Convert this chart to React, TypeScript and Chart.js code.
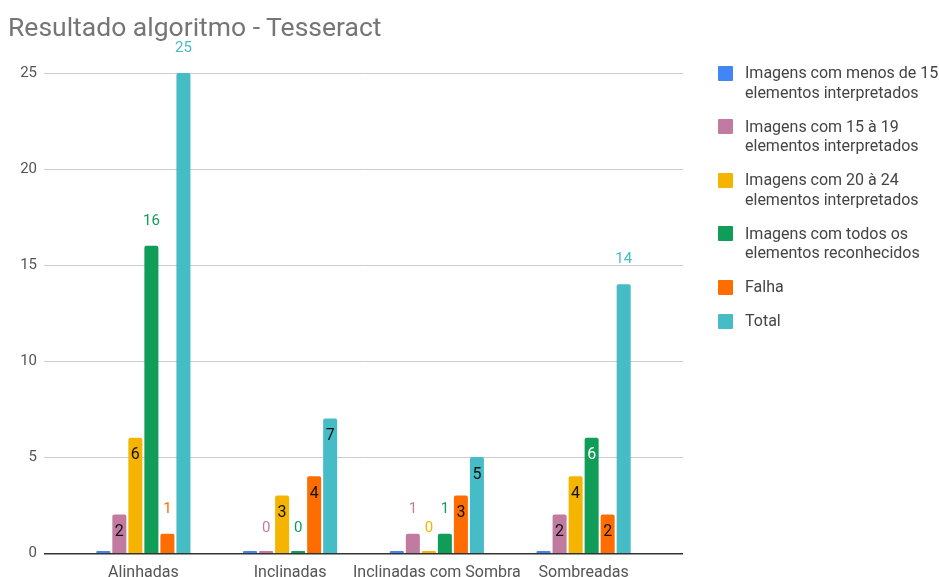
import React, { useEffect, useRef } from "react";
import { Chart, registerables } from "chart.js";

Chart.register(...registerables);

const categories = ["Alinhadas", "Inclinadas", "Inclinadas com Sombra", "Sombreadas"];
const seriesNames = [
  ["Imagens com menos de 15", "elementos interpretados"],
  ["Imagens com 15 à 19", "elementos interpretados"],
  ["Imagens com 20 à 24", "elementos interpretados"],
  ["Imagens com todos os", "elementos reconhecidos"],
  ["Falha"],
  ["Total"],
];
const menos15 = [0, 0, 0, 0];
const de15a19 = [2, 0, 1, 2];
const de20a24 = [6, 3, 0, 4];
const todos = [16, 0, 1, 6];
const falha = [1, 4, 3, 2];
const total = [25, 7, 5, 14];
const yTicks = [0, 5, 10, 15, 20, 25];
const colors = ["#4285F4", "#C27BA0", "#F4B400", "#0F9D58", "#FF6D00", "#46BDC6"];
const seriesValues = [menos15, de15a19, de20a24, todos, falha, total];

const FONT = "Roboto, 'Noto Sans', sans-serif";

function isDark(hex: string) {
  const r = parseInt(hex.slice(1, 3), 16);
  const g = parseInt(hex.slice(3, 5), 16);
  const b = parseInt(hex.slice(5, 7), 16);
  return 0.299 * r + 0.587 * g + 0.114 * b < 130;
}

const gridPlugin = {
  id: "gsGrid",
  beforeDatasetsDraw(chart: any) {
    const ctx = chart.ctx;
    const y = chart.scales.y;
    ctx.save();
    ctx.strokeStyle = "#cccccc";
    ctx.lineWidth = 1;
    for (const t of yTicks) {
      if (t === 0) continue;
      const py = Math.round(y.getPixelForValue(t)) + 0.5;
      ctx.beginPath();
      ctx.moveTo(44, py);
      ctx.lineTo(683, py);
      ctx.stroke();
    }
    ctx.restore();
  },
  afterDatasetsDraw(chart: any) {
    const ctx = chart.ctx;
    const y = chart.scales.y;
    ctx.save();
    const py = Math.round(y.getPixelForValue(0));
    ctx.fillStyle = "#333333";
    ctx.fillRect(44, py, 639, 1.5);
    ctx.restore();
  },
};

const labelPlugin = {
  id: "gsLabels",
  afterDraw(chart: any) {
    const ctx = chart.ctx;
    const y = chart.scales.y;
    ctx.save();
    ctx.textAlign = "center";
    ctx.textBaseline = "middle";
    chart.data.datasets.forEach((ds: any, di: number) => {
      if (di === 0) return;
      const meta = chart.getDatasetMeta(di);
      meta.data.forEach((bar: any, i: number) => {
        const v = ds.data[i];
        const top = y.getPixelForValue(v);
        const color = colors[di];
        if (v >= 2 && v <= 7) {
          ctx.font = `16px ${FONT}`;
          ctx.fillStyle = isDark(color) ? "#ffffff" : "#111111";
          ctx.fillText(String(v), bar.x, top + 17.5);
        } else {
          ctx.font = `15px ${FONT}`;
          ctx.lineWidth = 3;
          ctx.strokeStyle = "#ffffff";
          ctx.lineJoin = "round";
          ctx.strokeText(String(v), bar.x, top - 24.5);
          ctx.fillStyle = color;
          ctx.fillText(String(v), bar.x, top - 24.5);
        }
      });
    });
    ctx.restore();
  },
};

export default function App() {
  const ref = useRef<HTMLCanvasElement | null>(null);

  useEffect(() => {
    if (!ref.current) return;
    const chart = new Chart(ref.current, {
      type: "bar",
      data: {
        labels: categories,
        datasets: seriesValues.map((vals, i) => ({
          label: seriesNames[i].join(" "),
          data: vals,
          backgroundColor: colors[i],
          borderRadius: { topLeft: 2, topRight: 2, bottomLeft: 0, bottomRight: 0 },
          borderSkipped: false,
          minBarLength: 2,
          categoryPercentage: 0.655,
          barPercentage: 0.875,
        })),
      },
      options: {
        responsive: false,
        animation: false,
        layout: { padding: { top: 73, right: 282, left: 0, bottom: 0 } },
        plugins: {
          legend: { display: false },
          title: { display: false },
          tooltip: { enabled: false },
        },
        scales: {
          x: {
            offset: true,
            grid: { display: false, drawTicks: false },
            border: { display: false },
            ticks: {
              color: "#555555",
              font: { family: FONT, size: 16 },
              padding: 10,
              maxRotation: 0,
              autoSkip: false,
            },
            afterFit: (s: any) => {
              s.height = 24;
              s.paddingLeft = 0;
              s.paddingRight = 0;
            },
          },
          y: {
            min: 0,
            max: 25,
            grid: { display: false, drawTicks: false },
            border: { display: false },
            afterBuildTicks: (s: any) => {
              s.ticks = yTicks.map((v) => ({ value: v }));
            },
            ticks: {
              color: "#555555",
              font: { family: FONT, size: 15 },
              padding: 33,
            },
            afterFit: (s: any) => {
              s.width = 70;
              s.paddingTop = 0;
              s.paddingBottom = 0;
            },
          },
        },
      },
      plugins: [gridPlugin, labelPlugin],
    });
    return () => chart.destroy();
  }, []);

  return (
    <div style={{ position: "fixed", left: 0, top: 0, width: 939, height: 577, background: "#fff" }}>
      <canvas ref={ref} width={939} height={577} style={{ position: "absolute", left: 0, top: 0 }} />
      <div
        style={{
          position: "absolute",
          left: 8,
          top: 9,
          fontFamily: FONT,
          fontSize: 26.5,
          color: "#757575",
          lineHeight: "36px",
          whiteSpace: "nowrap",
        }}
      >
        Resultado algoritmo - Tesseract
      </div>
      <div style={{ position: "absolute", left: 718, top: 63, fontFamily: FONT, fontSize: 16, color: "#444444" }}>
        {seriesNames.map((lines, i) => (
          <div key={i} style={{ position: "relative", marginBottom: 14.5, lineHeight: "19.5px", whiteSpace: "nowrap" }}>
            <div
              style={{
                position: "absolute",
                left: 0,
                top: 2.5,
                width: 15,
                height: 15,
                background: colors[i],
                borderRadius: 1,
              }}
            />
            <div style={{ marginLeft: 27 }}>
              {lines.map((l, j) => (
                <div key={j}>{l}</div>
              ))}
            </div>
          </div>
        ))}
      </div>
    </div>
  );
}
